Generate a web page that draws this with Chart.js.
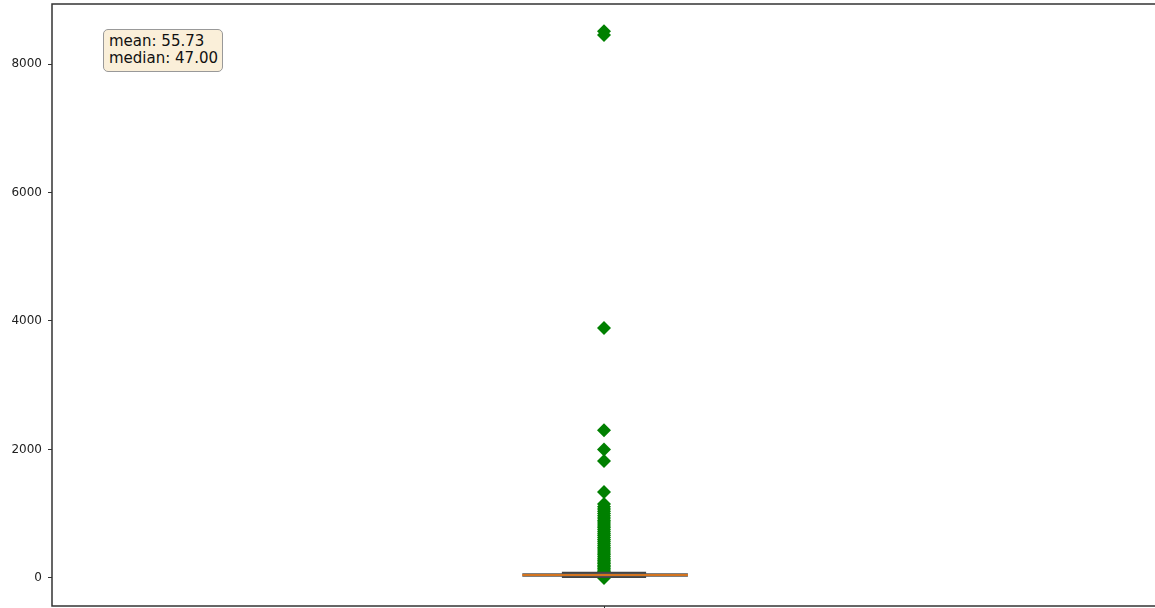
<!DOCTYPE html>
<html>
<head>
<meta charset="utf-8">
<script src="https://cdn.jsdelivr.net/npm/chart.js@4/dist/chart.umd.min.js"></script>
<style>
  html, body { margin: 0; padding: 0; background: #fff; overflow: hidden; }
  #wrap { position: relative; width: 1158px; height: 608px; }
  #stats {
    position: absolute; left: 103px; top: 29px;
    padding: 3px 4px 4px 5px;
    background: #faefd9; border: 1.5px solid #999; border-radius: 5px;
    font: 15px "DejaVu Sans", sans-serif; line-height: 17px; color: #111;
  }
</style>
</head>
<body>
<div id="wrap">
  <canvas id="box" width="1158" height="608"></canvas>
  <div id="stats">mean: 55.73<br>median: 47.00</div>
</div>
<script>
/* box plot values */
const Y_TICKS = [0, 2000, 4000, 6000, 8000];
const Y_MIN = -436;
const Y_MAX = 8934;
const BOX_POS = 1;
const Q1 = 5;
const Q3 = 95;
const MEDIAN = 47;
const MEDIAN_SPAN = [0.926, 1.076];
const FLIERS = [
    0, 20, 45, 70, 100, 125, 150, 175, 200, 225, 250, 275, 300, 330, 360,
    390, 420, 450, 480, 510, 540, 570, 600, 630, 660, 690, 720, 750, 780,
    810, 840, 870, 900, 935, 970, 1005, 1040, 1075, 1110, 1150,
    1340, 1820, 2000, 2300, 3890, 8450, 8510
];

/* frame around the plot area */
const framePlugin = {
    id: 'frame',
    afterDraw(chart) {
        const { ctx, chartArea: a } = chart;
        ctx.save();
        ctx.strokeStyle = '#333';
        ctx.lineWidth = 1.5;
        ctx.strokeRect(a.left, a.top, a.right - a.left, a.bottom - a.top);
        ctx.restore();
    }
};

new Chart(document.getElementById('box'), {
    type: 'scatter',
    data: {
        datasets: [
            {
                label: 'fliers',
                data: FLIERS.map(v => ({ x: BOX_POS, y: v })),
                pointStyle: 'rectRot',
                pointRadius: 7,
                pointBackgroundColor: '#008000',
                pointBorderColor: '#008000',
                pointBorderWidth: 0,
                order: 3
            },
            {
                type: 'bar',
                label: 'box',
                data: [{ x: BOX_POS, y: [Q1, Q3] }],
                backgroundColor: 'rgba(255,255,255,0)',
                borderColor: '#444',
                borderWidth: 2,
                borderSkipped: false,
                barThickness: 84,
                order: 2
            },
            {
                label: 'median-edge',
                data: MEDIAN_SPAN.map(x => ({ x: x, y: MEDIAN })),
                showLine: true,
                borderColor: '#555',
                borderWidth: 3.5,
                pointRadius: 0,
                order: 1
            },
            {
                label: 'median',
                data: MEDIAN_SPAN.map(x => ({ x: x, y: MEDIAN })),
                showLine: true,
                borderColor: '#ff7f0e',
                borderWidth: 1.5,
                pointRadius: 0,
                order: 0
            }
        ]
    },
    options: {
        responsive: false,
        animation: false,
        layout: { autoPadding: false, padding: { top: 4, right: 2, left: 0, bottom: 0 } },
        plugins: { legend: { display: false }, tooltip: { enabled: false } },
        scales: {
            x: {
                type: 'linear',
                min: 0.5,
                max: 1.5,
                offset: false,
                afterBuildTicks: s => { s.ticks = [{ value: BOX_POS }]; },
                afterFit: s => {
                    s.height = 2;
                    s.paddingLeft = 0; s.paddingRight = 0;
                    s.paddingTop = 0; s.paddingBottom = 0;
                },
                ticks: { display: false },
                grid: { offset: false, drawOnChartArea: false, tickLength: 4, color: '#333' },
                border: { display: false }
            },
            y: {
                min: Y_MIN,
                max: Y_MAX,
                afterBuildTicks: s => { s.ticks = Y_TICKS.map(v => ({ value: v })); },
                afterFit: s => {
                    s.width = 52;
                    s.paddingTop = 0; s.paddingBottom = 0;
                    s.paddingLeft = 0; s.paddingRight = 0;
                },
                ticks: {
                    padding: 6,
                    color: '#222',
                    font: { family: "'DejaVu Sans', sans-serif", size: 12 },
                    callback: v => String(v)
                },
                grid: { drawOnChartArea: false, tickLength: 4, color: '#333' },
                border: { display: false }
            }
        }
    },
    plugins: [framePlugin]
});
</script>
</body>
</html>
